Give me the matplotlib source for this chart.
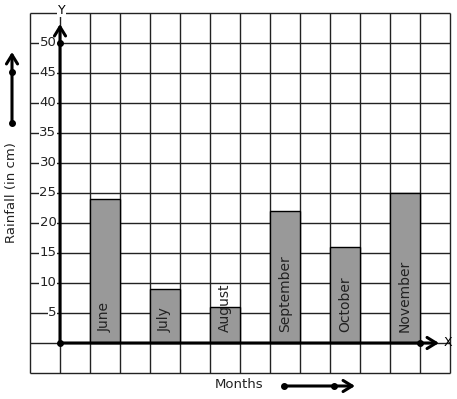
import matplotlib
matplotlib.use("Agg")
from matplotlib import pyplot as plt
import numpy as np

months = ["June", "July", "August", "September", "October", "November"]
rainfall = [24, 9, 6, 22, 16, 25]
y_ticks = [5, 10, 15, 20, 25, 30, 35, 40, 45, 50]

# one grid cell = 30 px; x in cells, y in cm (5 cm per cell)
W, H = 457, 399
ox, oy = 60, 343          # pixel position of origin
fig = plt.figure(figsize=(W / 100, H / 100), dpi=100)
ax = fig.add_axes([0, 0, 1, 1])
ax.set_xlim(-ox / 30, (W - ox) / 30)
ax.set_ylim((oy - H) / 6, oy / 6)
ax.set_axis_off()

# grid squares
ax.vlines(np.arange(-1, 14), -5, 55, color="#222222", lw=1, zorder=1)
ax.hlines(np.arange(-5, 56, 5), -1, 13, color="#222222", lw=1, zorder=1)

# bars, one every other column
pos = np.arange(len(months)) * 2 + 1
ax.bar(pos, rainfall, width=1, align="edge", color="#999999",
       edgecolor="black", lw=1, zorder=2)
for p, m in zip(pos, months):
    ax.text(p + 0.5, 1.8, m, rotation=90, ha="center", va="bottom",
            fontsize=10, color="#222222", zorder=3)

# y tick labels sitting on the grid lines
for t in y_ticks:
    ax.text(-0.12, t, str(t), ha="right", va="center", fontsize=9.5,
            color="#222222", zorder=3,
            bbox=dict(facecolor="white", edgecolor="none", pad=0.3))

# axes with open arrowheads
arw = dict(arrowstyle="->,head_length=0.65,head_width=0.4", lw=2.2,
           color="black", shrinkA=0, shrinkB=0)
ax.annotate("", xy=(0, (oy - 24) / 6), xytext=(0, 0), arrowprops=arw, zorder=4)
ax.annotate("", xy=((439 - ox) / 30, 0), xytext=(0, 0), arrowprops=arw, zorder=4)
ax.plot([0, 0, 12], [0, 50, 0], "o", color="black", ms=4, zorder=5)

ax.text(0.05, (oy - 10) / 6, "Y", ha="center", va="center", fontsize=9,
        zorder=4, bbox=dict(facecolor="white", edgecolor="none", pad=0.5))
ax.text((448 - ox) / 30, 0, "X", ha="center", va="center", fontsize=9,
        zorder=4)

# axis titles with their direction arrows
ax.text((12 - ox) / 30, (oy - 193) / 6, "Rainfall (in cm)", rotation=90,
        ha="center", va="center", fontsize=9.5, color="#222222")
ax.annotate("", xy=((12 - ox) / 30, (oy - 52) / 6),
            xytext=((12 - ox) / 30, (oy - 123) / 6), arrowprops=arw)
ax.plot([(12 - ox) / 30] * 2, [(oy - 123) / 6, (oy - 72) / 6], "o",
        color="black", ms=4)

ax.text((239 - ox) / 30, (oy - 385) / 6, "Months", ha="center", va="center",
        fontsize=9.5, color="#222222")
ax.annotate("", xy=((355 - ox) / 30, (oy - 386) / 6),
            xytext=((284 - ox) / 30, (oy - 386) / 6), arrowprops=arw)
ax.plot([(284 - ox) / 30, (334 - ox) / 30], [(oy - 386) / 6] * 2, "o",
        color="black", ms=4)

fig.savefig("out.png", dpi=100, facecolor="white")
